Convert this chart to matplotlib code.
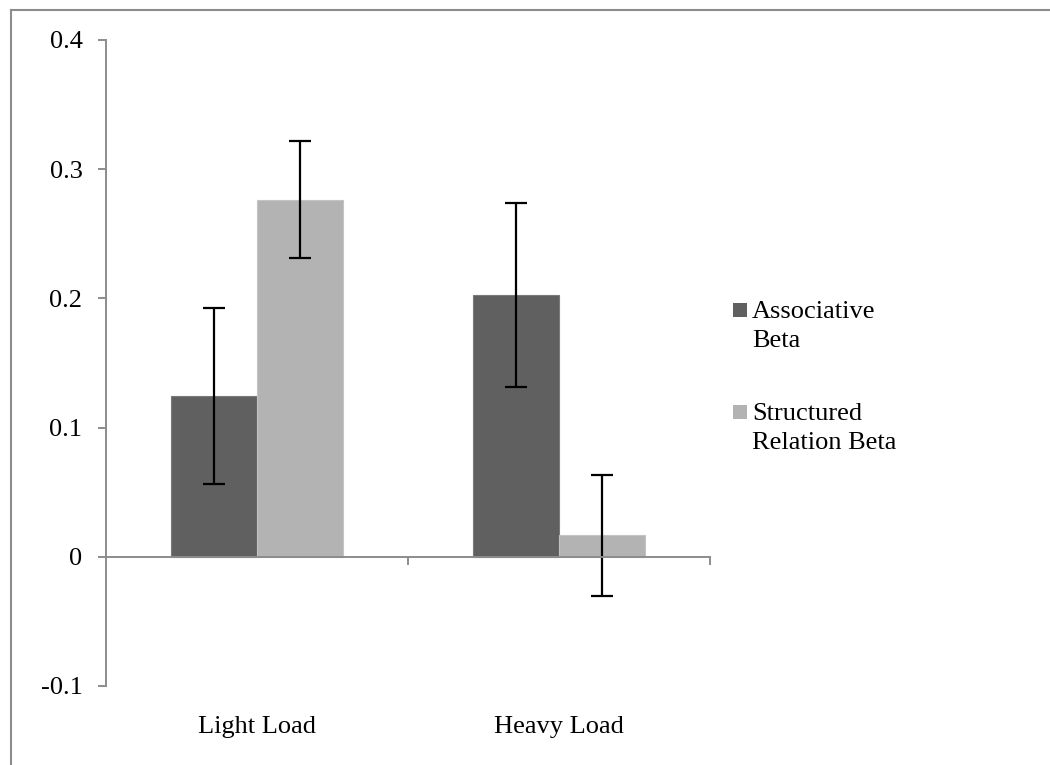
import numpy as np
import matplotlib
matplotlib.use("Agg")
import matplotlib.pyplot as plt
from matplotlib.lines import Line2D
from matplotlib.patches import Rectangle
from matplotlib.transforms import blended_transform_factory

plt.rcParams['font.family'] = ['Liberation Serif', 'DejaVu Serif']

categories = ["Light Load", "Heavy Load"]
series_names = ["Associative\nBeta", "Structured\nRelation Beta"]
associative = [0.1245, 0.2025]
associative_err = [0.068, 0.071]
structured = [0.2765, 0.0165]
structured_err = [0.045, 0.047]
yticks = [-0.1, 0, 0.1, 0.2, 0.3, 0.4]
ytick_labels = ["-0.1", "0", "0.1", "0.2", "0.3", "0.4"]

colors = ["#606060", "#b3b3b3"]
axis_grey = "#8c8c8c"
fs = 19

fig = plt.figure(figsize=(10.5, 7.65), dpi=100)
ax = fig.add_axes([106 / 1050, 1 - 686 / 765, 604 / 1050, 646 / 765])

x = np.arange(len(categories)) + 0.5
w = 0.285
ax.bar(x - w / 2, associative, w, color=colors[0], edgecolor="#7a7a7a", linewidth=0.8)
ax.bar(x + w / 2, structured, w, color=colors[1], edgecolor="#c4c4c4", linewidth=0.8)
ebar = dict(fmt="none", ecolor="black", elinewidth=1.6, capsize=8, capthick=1.6)
ax.errorbar(x - w / 2, associative, yerr=associative_err, **ebar)
ax.errorbar(x + w / 2, structured, yerr=structured_err, **ebar)

ax.set_xlim(0, len(categories))
ax.set_ylim(-0.1, 0.4)

for s in ["top", "right"]:
    ax.spines[s].set_visible(False)
ax.spines["left"].set_color(axis_grey)
ax.spines["left"].set_linewidth(1.4)
ax.spines["bottom"].set_position(("data", 0))
ax.spines["bottom"].set_color(axis_grey)
ax.spines["bottom"].set_linewidth(1.4)

ax.set_yticks(yticks)
ax.set_yticklabels(ytick_labels, fontsize=fs)
ax.tick_params(axis="y", length=6, width=1.4, color=axis_grey, pad=11)
ax.set_xticks(np.arange(len(categories) + 1)[1:])
ax.set_xticklabels([])
ax.tick_params(axis="x", length=6, width=1.4, color=axis_grey)

trans = blended_transform_factory(ax.transData, ax.transAxes)
for xi, name in zip(x, categories):
    ax.text(xi, -0.063, name, transform=trans, ha="center", va="center", fontsize=fs)

# legend drawn by hand so each swatch sits beside the first text line
legend_y = [310, 412]
for name, col, yy in zip(series_names, colors, legend_y):
    fig.patches.append(Rectangle((733 / 1050, 1 - (yy + 7) / 765), 14 / 1050, 14 / 765,
                                 transform=fig.transFigure, facecolor=col, edgecolor="none"))
    fig.text(752 / 1050, 1 - (yy - 9) / 765, name, ha="left", va="top",
             fontsize=fs, linespacing=1.4)

# outer frame: only the top and left edges fall inside the canvas
fig.add_artist(Line2D([11 / 1050, 11 / 1050], [0, 1 - 10 / 765], transform=fig.transFigure,
                      color=axis_grey, linewidth=1.5))
fig.add_artist(Line2D([11 / 1050, 1], [1 - 10 / 765, 1 - 10 / 765], transform=fig.transFigure,
                      color=axis_grey, linewidth=1.5))

fig.savefig("out.png", dpi=100)
